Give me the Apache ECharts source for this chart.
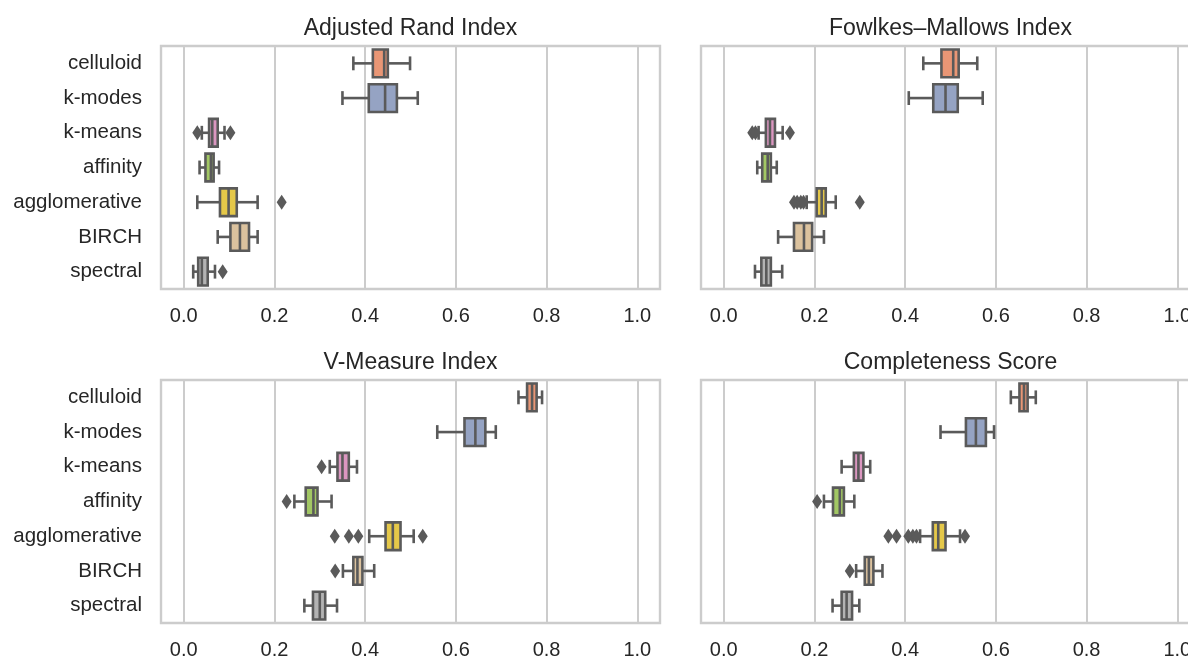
<!DOCTYPE html>
<html>
<head>
<meta charset="utf-8">
<script src="https://cdn.jsdelivr.net/npm/echarts@6/dist/echarts.min.js"></script>
<style>
html,body{margin:0;padding:0;background:#fff;}
#main{width:1188px;height:661px;}
</style>
</head>
<body>
<div id="main"></div>
<script>
// ---------- data ----------
const categories = ['celluloid', 'k-modes', 'k-means', 'affinity', 'agglomerative', 'BIRCH', 'spectral'];
const tickValues = [0, 0.2, 0.4, 0.6, 0.8, 1.0];
const panelTitles = ['Adjusted Rand Index', 'Fowlkes\u2013Mallows Index', 'V-Measure Index', 'Completeness Score'];
const boxColors = ['#e99675', '#95a3c3', '#db96c0', '#a2c764', '#e5c849', '#dbc29e', '#b3b3b3'];

// [whisker low, Q1, median, Q3, whisker high] per category
const ariStats = [
  [0.374, 0.417, 0.442, 0.450, 0.499],
  [0.350, 0.408, 0.444, 0.470, 0.516],
  [0.040, 0.056, 0.063, 0.075, 0.090],
  [0.035, 0.048, 0.060, 0.066, 0.078],
  [0.030, 0.080, 0.099, 0.117, 0.163],
  [0.075, 0.103, 0.124, 0.144, 0.163],
  [0.021, 0.032, 0.040, 0.053, 0.069]
];
const ariOutliers = [
  ['k-means', 0.030], ['k-means', 0.103],
  ['agglomerative', 0.216],
  ['spectral', 0.086]
];

const fmiStats = [
  [0.440, 0.480, 0.506, 0.518, 0.559],
  [0.408, 0.462, 0.489, 0.516, 0.571],
  [0.077, 0.093, 0.102, 0.113, 0.130],
  [0.074, 0.085, 0.097, 0.104, 0.117],
  [0.183, 0.205, 0.216, 0.225, 0.247],
  [0.120, 0.155, 0.177, 0.195, 0.221],
  [0.069, 0.083, 0.094, 0.104, 0.129]
];
const fmiOutliers = [
  ['k-means', 0.063], ['k-means', 0.070], ['k-means', 0.146],
  ['agglomerative', 0.155], ['agglomerative', 0.162], ['agglomerative', 0.170], ['agglomerative', 0.176],
  ['agglomerative', 0.300]
];

const vmStats = [
  [0.738, 0.757, 0.768, 0.778, 0.790],
  [0.559, 0.619, 0.643, 0.665, 0.688],
  [0.322, 0.339, 0.350, 0.364, 0.382],
  [0.244, 0.269, 0.286, 0.295, 0.326],
  [0.409, 0.445, 0.461, 0.478, 0.507],
  [0.351, 0.374, 0.383, 0.394, 0.420],
  [0.266, 0.285, 0.300, 0.312, 0.338]
];
const vmOutliers = [
  ['k-means', 0.304],
  ['affinity', 0.227],
  ['agglomerative', 0.333], ['agglomerative', 0.364], ['agglomerative', 0.385], ['agglomerative', 0.527],
  ['BIRCH', 0.334]
];

const csStats = [
  [0.633, 0.652, 0.662, 0.670, 0.688],
  [0.478, 0.534, 0.556, 0.578, 0.596],
  [0.260, 0.287, 0.297, 0.308, 0.323],
  [0.221, 0.241, 0.256, 0.265, 0.288],
  [0.433, 0.461, 0.473, 0.489, 0.521],
  [0.292, 0.311, 0.320, 0.330, 0.350],
  [0.240, 0.260, 0.271, 0.283, 0.299]
];
const csOutliers = [
  ['affinity', 0.206],
  ['agglomerative', 0.363], ['agglomerative', 0.381], ['agglomerative', 0.407], ['agglomerative', 0.417], ['agglomerative', 0.425],
  ['agglomerative', 0.532],
  ['BIRCH', 0.278]
];

// ---------- layout ----------
const panelStats = [ariStats, fmiStats, vmStats, csStats];
const panelOutliers = [ariOutliers, fmiOutliers, vmOutliers, csOutliers];
const gridBoxes = [
  {left: 161, top: 46, width: 499, height: 243},
  {left: 701, top: 46, width: 499, height: 243},
  {left: 161, top: 380, width: 499, height: 243},
  {left: 701, top: 380, width: 499, height: 243}
];
const EDGE = '#5a5a5a';
const TEXT = '#262626';
const FONT = '"Liberation Sans", Arial, Helvetica, sans-serif';

const chart = echarts.init(document.getElementById('main'), null, {renderer: 'canvas'});

function renderBox(params, api) {
  const ci = api.value(0);
  const lo = api.coord([api.value(1), ci]);
  const q1 = api.coord([api.value(2), ci]);
  const md = api.coord([api.value(3), ci]);
  const q3 = api.coord([api.value(4), ci]);
  const hi = api.coord([api.value(5), ci]);
  const band = api.size([0, 1])[1];
  const bh = band * 0.8;
  const ch = bh * 0.5;
  const y = lo[1];
  const lw = 2.6;
  const ls = {stroke: EDGE, lineWidth: lw};
  return {
    type: 'group',
    children: [
      {type: 'line', shape: {x1: lo[0], y1: y, x2: q1[0], y2: y}, style: ls},
      {type: 'line', shape: {x1: q3[0], y1: y, x2: hi[0], y2: y}, style: ls},
      {type: 'line', shape: {x1: lo[0], y1: y - ch / 2, x2: lo[0], y2: y + ch / 2}, style: ls},
      {type: 'line', shape: {x1: hi[0], y1: y - ch / 2, x2: hi[0], y2: y + ch / 2}, style: ls},
      {type: 'rect', shape: {x: q1[0], y: y - bh / 2, width: q3[0] - q1[0], height: bh},
        style: {fill: boxColors[ci], stroke: EDGE, lineWidth: lw}},
      {type: 'line', shape: {x1: md[0], y1: y - bh / 2, x2: md[0], y2: y + bh / 2}, style: ls}
    ]
  };
}

const grids = [], xAxes = [], yAxes = [], series = [], titles = [];
gridBoxes.forEach((g, i) => {
  grids.push(Object.assign({show: true, borderColor: '#cccccc', borderWidth: 2.4, backgroundColor: '#fff', outerBoundsMode: 'none', containLabel: false}, g));
  xAxes.push({
    type: 'value', gridIndex: i, min: -0.05, max: 1.05,
    axisLine: {show: false},
    axisTick: {show: false, customValues: tickValues},
    axisLabel: {customValues: tickValues, formatter: v => v.toFixed(1), color: TEXT, fontSize: 20, fontFamily: FONT, margin: 17},
    splitLine: {show: true, lineStyle: {color: '#cccccc', width: 2}}
  });
  yAxes.push({
    type: 'category', gridIndex: i, data: categories, inverse: true,
    axisLine: {show: false}, axisTick: {show: false}, splitLine: {show: false},
    axisLabel: {show: i % 2 === 0, color: TEXT, fontSize: 20.5, fontFamily: FONT, margin: 19}
  });
  titles.push({
    text: panelTitles[i], left: g.left + 499 / 2, top: g.top - 29, textAlign: 'center', padding: 0,
    textStyle: {color: TEXT, fontSize: 23, fontWeight: 'normal', fontFamily: FONT}
  });
  series.push({
    type: 'custom', xAxisIndex: i, yAxisIndex: i,
    renderItem: renderBox,
    encode: {y: 0, x: [1, 2, 3, 4, 5]},
    data: panelStats[i].map((s, ci) => [ci].concat(s)),
    z: 3
  });
  series.push({
    type: 'scatter', xAxisIndex: i, yAxisIndex: i,
    symbol: 'diamond', symbolSize: [10, 15],
    itemStyle: {color: EDGE, opacity: 1},
    data: panelOutliers[i].map(o => [o[1], o[0]]),
    z: 4
  });
});

chart.setOption({
  animation: false,
  backgroundColor: '#ffffff',
  title: titles,
  grid: grids,
  xAxis: xAxes,
  yAxis: yAxes,
  series: series
});
</script>
</body>
</html>
